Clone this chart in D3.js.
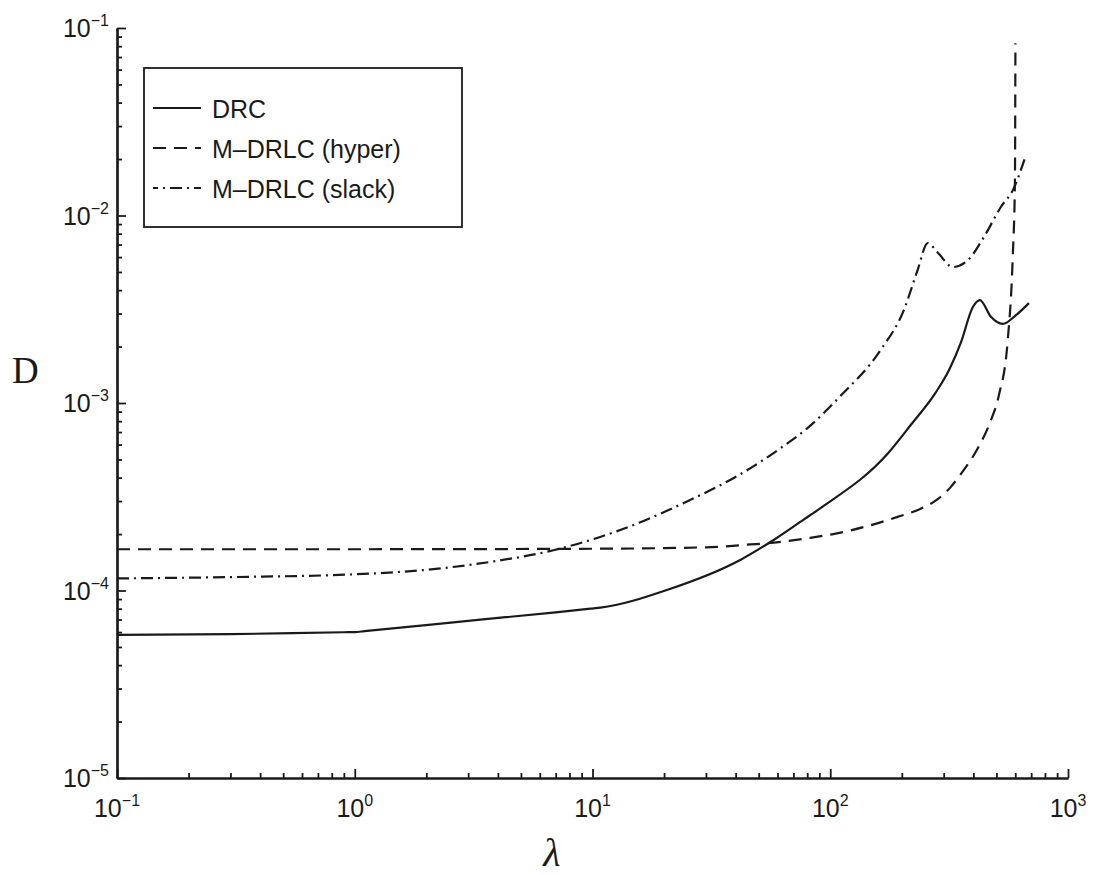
<!DOCTYPE html>
<html>
<head>
<meta charset="utf-8">
<script src="https://cdn.jsdelivr.net/npm/d3@7"></script>
<style>
  html, body { margin: 0; padding: 0; background: #fff; }
  svg { display: block; }
</style>
</head>
<body>
<svg id="chart" width="1096" height="875"></svg>
<script>
// ---------- data ----------
const drcLambda = [0.1, 0.3, 0.9, 1, 1.1, 3.3, 7, 9.8, 10.8, 20.7, 42, 57.8, 77, 91, 175, 218, 278, 316, 354, 398, 426, 474, 532, 604, 685];
const drcD      = [5.8e-5, 5.85e-5, 5.99e-5, 6.0e-5, 6.07e-5, 6.97e-5, 7.65e-5, 8.0e-5, 8.1e-5, 1.01e-4, 1.46e-4, 1.86e-4, 2.38e-4, 2.75e-4, 5.4e-4, 7.63e-4, 1.14e-3, 1.5e-3, 2.09e-3, 3.25e-3, 3.54e-3, 2.88e-3, 2.64e-3, 2.94e-3, 3.41e-3];

const hyperLambda = [0.1, 1, 10, 30, 46, 58, 80, 103, 148, 192, 240, 284, 321, 354, 418, 474, 512, 558, 586, 598, 601];
const hyperD      = [1.66e-4, 1.66e-4, 1.67e-4, 1.7e-4, 1.76e-4, 1.8e-4, 1.9e-4, 2.0e-4, 2.23e-4, 2.47e-4, 2.73e-4, 3.08e-4, 3.56e-4, 4.18e-4, 5.75e-4, 8.1e-4, 1.1e-3, 2.17e-3, 6.15e-3, 0.0149, 0.083];

const slackLambda = [0.1, 0.314, 1, 2.14, 3.98, 6.85, 10.1, 16.4, 24.2, 42, 61.9, 80.4, 108, 163, 204, 233, 257, 284, 328, 380, 443, 522, 587, 665];
const slackD      = [1.16e-4, 1.18e-4, 1.22e-4, 1.30e-4, 1.44e-4, 1.64e-4, 1.88e-4, 2.35e-4, 2.93e-4, 4.18e-4, 5.75e-4, 7.36e-4, 1.06e-3, 1.92e-3, 3.13e-3, 5.12e-3, 7.13e-3, 6.31e-3, 5.31e-3, 5.79e-3, 7.68e-3, 0.0111, 0.0137, 0.021];

const seriesNames = ["DRC", "M\u2013DRLC (hyper)", "M\u2013DRLC (slack)"];
const xMajorExp = [-1, 0, 1, 2, 3];
const yMajorExp = [-5, -4, -3, -2, -1];

// ---------- layout ----------
const svg = d3.select("#chart");
const ink = "#1a1a1a";
const x = d3.scaleLog().domain([0.1, 1000]).range([117, 1068]);
const y = d3.scaleLog().domain([1e-5, 0.1]).range([778, 28]);

const dashStyles = ["none", "13,8", "12,5,2,5"];

function minors(lo, hi) {
  const out = [];
  for (let e = lo; e < hi; e++) for (let m = 2; m <= 9; m++) out.push(m * Math.pow(10, e));
  return out;
}

// x axis
svg.append("g").attr("transform", "translate(0,778)")
  .call(d3.axisBottom(x).tickValues(minors(-1, 3)).tickSize(-5).tickSizeOuter(0).tickFormat(""));
svg.append("g").attr("transform", "translate(0,778)")
  .call(d3.axisBottom(x).tickValues(xMajorExp.map(e => Math.pow(10, e))).tickSize(-9).tickSizeOuter(0).tickFormat(""));

// y axis
svg.append("g").attr("transform", "translate(117,0)")
  .call(d3.axisLeft(y).tickValues(minors(-5, -1)).tickSize(-5).tickSizeOuter(0).tickFormat(""));
svg.append("g").attr("transform", "translate(117,0)")
  .call(d3.axisLeft(y).tickValues(yMajorExp.map(e => Math.pow(10, e))).tickSize(-9).tickSizeOuter(0).tickFormat(""));

svg.selectAll(".domain").attr("stroke", ink).attr("stroke-width", 2.2);
svg.selectAll(".tick line").attr("stroke", ink).attr("stroke-width", 1.8);

const tickFont = "Liberation Sans, Arial, Helvetica, sans-serif";

// x tick labels
xMajorExp.forEach(e => {
  const t = svg.append("text")
    .attr("x", x(Math.pow(10, e)))
    .attr("y", 817)
    .attr("text-anchor", "middle")
    .attr("font-family", tickFont)
    .attr("font-size", 25)
    .attr("fill", ink);
  t.append("tspan").text("10");
  t.append("tspan").attr("dy", -11).attr("font-size", 16).text(e < 0 ? "\u2212" + (-e) : String(e));
});

// y tick labels
yMajorExp.forEach(e => {
  const t = svg.append("text")
    .attr("x", 109)
    .attr("y", y(Math.pow(10, e)) + 9)
    .attr("text-anchor", "end")
    .attr("font-family", tickFont)
    .attr("font-size", 25)
    .attr("fill", ink);
  t.append("tspan").text("10");
  t.append("tspan").attr("dy", -11).attr("font-size", 16).text("\u2212" + (-e));
});

// axis titles
svg.append("text").attr("x", 12).attr("y", 383)
  .attr("font-family", "Liberation Serif, Times New Roman, serif")
  .attr("font-size", 37).attr("fill", ink).text("D");
svg.append("text").attr("x", 552).attr("y", 866).attr("text-anchor", "middle")
  .attr("font-family", "Liberation Serif, Times New Roman, serif")
  .attr("font-style", "italic")
  .attr("font-size", 40).attr("fill", ink).text("\u03bb");

// curves
const line = d3.line().x(d => x(d[0])).y(d => y(d[1])).curve(d3.curveMonotoneX);
const series = [
  d3.zip(drcLambda, drcD),
  d3.zip(hyperLambda, hyperD),
  d3.zip(slackLambda, slackD)
];
series.forEach((s, i) => {
  svg.append("path")
    .attr("d", line(s))
    .attr("fill", "none")
    .attr("stroke", ink)
    .attr("stroke-width", 2.2)
    .attr("stroke-dasharray", dashStyles[i]);
});

// legend
const lg = svg.append("g");
lg.append("rect").attr("x", 144).attr("y", 68).attr("width", 318).attr("height", 159)
  .attr("fill", "#fff").attr("stroke", ink).attr("stroke-width", 1.8);
const rowY = [108, 148, 188];
seriesNames.forEach((name, i) => {
  lg.append("line").attr("x1", 153).attr("x2", 201).attr("y1", rowY[i]).attr("y2", rowY[i])
    .attr("stroke", ink).attr("stroke-width", 2.2)
    .attr("stroke-dasharray", dashStyles[i])
    .attr("stroke-dashoffset", i === 2 ? 7 : 0);
  lg.append("text").attr("x", 212).attr("y", rowY[i] + 10)
    .attr("font-family", tickFont).attr("font-size", 25).attr("fill", ink).text(name);
});
</script>
</body>
</html>
